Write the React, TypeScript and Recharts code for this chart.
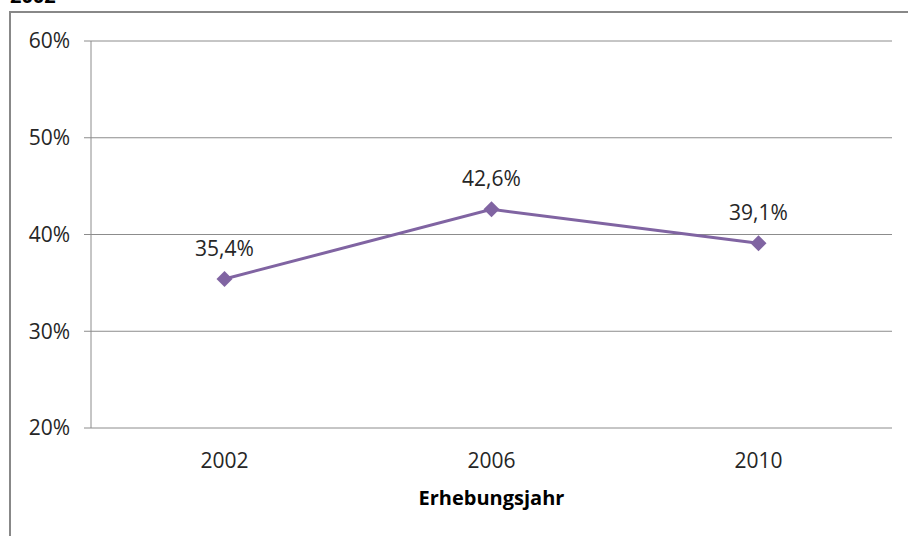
import React from "react";
import { LineChart, Line, XAxis, YAxis, CartesianGrid, LabelList, Label } from "recharts";

const years = ["2002", "2006", "2010"];
const shares = [35.4, 42.6, 39.1];
const yTicks = [20, 30, 40, 50, 60];
const edgeTicks = [0, 1, 2, 3];

const data = years.map((year, i) => ({ year, share: shares[i] }));

const FONT = "'Open Sans', sans-serif";
const GRID = "#8c8c8c";
const PURPLE = "#8064a2";

const fmtPct = (v: number) => `${v.toFixed(1).replace(".", ",")}%`;

const Diamond = (props: any) => {
  const { cx, cy } = props;
  if (cx == null || cy == null) return null;
  const r = 8;
  return (
    <polygon
      points={`${cx},${cy - r} ${cx + r},${cy} ${cx},${cy + r} ${cx - r},${cy}`}
      fill={PURPLE}
    />
  );
};

export default function App() {
  return (
    <div style={{ position: "absolute", left: 0, top: 0, width: 908, height: 536, overflow: "hidden", background: "#fff", fontFamily: FONT }}>
      <div style={{ position: "absolute", left: 10, top: -14, fontSize: 20, lineHeight: "20px", fontWeight: 700, color: "#000" }}>
        2002
      </div>
      <div style={{ position: "absolute", left: 9, top: 11, width: 940, height: 580, border: "2px solid #888", boxSizing: "border-box" }} />
      <div style={{ position: "absolute", left: 0, top: 0 }}>
        <LineChart width={908} height={536} data={data} margin={{ top: 41, right: 16, left: 0, bottom: 48 }}>
          <CartesianGrid xAxisId="cat" vertical={false} stroke={GRID} strokeWidth={1} />
          <XAxis
            xAxisId="edge"
            type="number"
            domain={[0, 3]}
            ticks={edgeTicks}
            height={0}
            tickSize={7}
            tickFormatter={() => ""}
            stroke={GRID}
            tickLine={{ stroke: GRID }}
            axisLine={{ stroke: GRID }}
          />
          <XAxis
            xAxisId="cat"
            dataKey="year"
            scale="band"
            height={60}
            tickSize={0}
            tickMargin={25}
            tickLine={false}
            axisLine={false}
            tick={{ fontSize: 21, fill: "#262626", fontFamily: FONT }}
          >
            <Label value="Erhebungsjahr" position="insideBottom" offset={-17} style={{ fontSize: 20, fontWeight: 700, fill: "#000", fontFamily: FONT }} />
          </XAxis>
          <YAxis
            width={91}
            domain={[20, 60]}
            ticks={yTicks}
            tickFormatter={(v: number) => `${v}%`}
            tickSize={7}
            tickMargin={14}
            stroke={GRID}
            tickLine={{ stroke: GRID }}
            axisLine={{ stroke: GRID }}
            tick={{ fontSize: 21, fill: "#262626", fontFamily: FONT }}
          />
          <Line
            xAxisId="cat"
            type="linear"
            dataKey="share"
            stroke={PURPLE}
            strokeWidth={3}
            dot={<Diamond />}
            activeDot={false}
            isAnimationActive={false}
          >
            <LabelList dataKey="share" position="top" offset={23} formatter={(v: any) => fmtPct(Number(v))} style={{ fontSize: 21, fill: "#262626", fontFamily: FONT }} />
          </Line>
        </LineChart>
      </div>
    </div>
  );
}
